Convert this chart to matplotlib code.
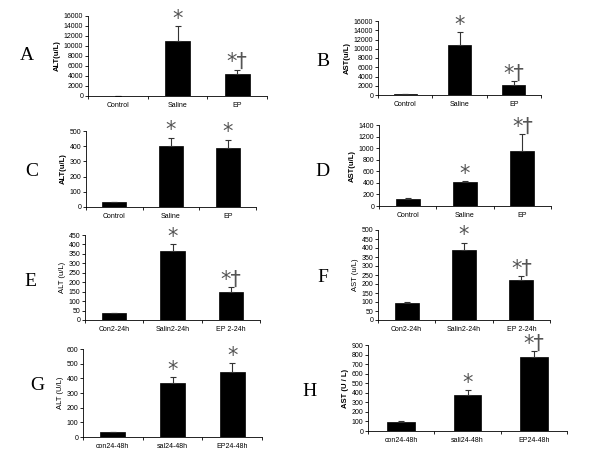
import matplotlib
matplotlib.use('Agg')
import matplotlib.pyplot as plt

plt.rcParams['font.family'] = ['Liberation Sans', 'DejaVu Sans']

# values (means, SD)
lbl_1 = ['Control', 'Saline', 'EP']
lbl_24 = ['Con2-24h', 'Salin2-24h', 'EP 2-24h']
lbl_g = ['con24-48h', 'sal24-48h', 'EP24-48h']
lbl_h = ['con24-48h', 'sali24-48h', 'EP24-48h']

alt_a = [0, 11000, 4500]
alt_a_err = [0, 3000, 800]
ast_b = [150, 10800, 2200]
ast_b_err = [50, 2800, 800]
alt_c = [30, 403, 390]
alt_c_err = [4, 53, 53]
ast_d = [120, 420, 950]
ast_d_err = [15, 12, 300]
alt_e = [35, 364, 146]
alt_e_err = [3, 37, 30]
ast_f = [94, 391, 222]
ast_f_err = [5, 39, 24]
alt_g = [32, 365, 440]
alt_g_err = [0, 41, 62]
ast_h = [94, 381, 776]
ast_h_err = [6, 46, 60]

sig_dag = ['', '*', '*†']
sig_star = ['', '*', '*']

panels = [
    # letter, labels, vals, err, marks, ylabel, ymax, ystep, bold,
    # axes box px (x0, x1, ytop, ybot), letter pos px (x, y)
    ('A', lbl_1, alt_a, alt_a_err, sig_dag, 'ALT(u/L)', 16000, 2000, True, (88, 267, 16, 96), (27, 55)),
    ('B', lbl_1, ast_b, ast_b_err, sig_dag, 'AST(u/L)', 16000, 2000, True, (378, 541, 21, 95), (323, 62)),
    ('C', lbl_1, alt_c, alt_c_err, sig_star, 'ALT(u/L)', 500, 100, True, (86, 256, 131, 207), (32, 171)),
    ('D', lbl_1, ast_d, ast_d_err, sig_dag, 'AST(u/L)', 1400, 200, True, (379, 551, 125, 206), (322, 171)),
    ('E', lbl_24, alt_e, alt_e_err, sig_dag, 'ALT (u/L)', 450, 50, False, (85, 260, 235, 320), (30, 282)),
    ('F', lbl_24, ast_f, ast_f_err, sig_dag, 'AST (u/L)', 500, 50, False, (378, 550, 230, 320), (323, 277)),
    ('G', lbl_g, alt_g, alt_g_err, sig_star, 'ALT (U/L)', 600, 100, False, (83, 262, 349, 437), (37, 385)),
    ('H', lbl_h, ast_h, ast_h_err, sig_dag, 'AST (U / L)', 900, 100, True, (368, 567, 345, 431), (310, 392)),
]

W, H = 600, 450
fig = plt.figure(figsize=(6, 4.5), dpi=100)

for letter, labels, vals, err, marks, ylab, ymax, ystep, bold, box, lpos in panels:
    x0, x1, yt, yb = box
    ax = fig.add_axes([x0 / W, 1 - yb / H, (x1 - x0) / W, (yb - yt) / H])
    xs = [1, 2, 3]
    ax.bar(xs, vals, width=0.42, color='black', edgecolor='black', linewidth=0.5)
    ax.errorbar(xs, vals, yerr=[[0, 0, 0], err], fmt='none', ecolor='#333333',
                elinewidth=0.8, capsize=2, capthick=0.8)
    for x, v, e, m in zip(xs, vals, err, marks):
        if m:
            ax.annotate(m, xy=(x, v + e), xytext=(0, -2), textcoords='offset points',
                        ha='center', va='bottom', fontsize=15, color='#555555',
                        family=['DejaVu Sans'], annotation_clip=False)
    ax.set_xlim(0.5, 3.5)
    ax.set_ylim(0, ymax)
    ax.set_yticks(range(0, ymax + 1, ystep))
    ax.set_xticks(xs)
    ax.set_xticklabels(labels)
    ax.set_xticks([0.5, 1.5, 2.5, 3.5], minor=True)
    ax.tick_params(axis='x', which='major', length=0, labelsize=5, pad=4)
    ax.tick_params(axis='x', which='minor', length=2.5, width=0.6, direction='out')
    ax.tick_params(axis='y', length=2, width=0.6, labelsize=5, pad=1.5)
    ax.spines['top'].set_visible(False)
    ax.spines['right'].set_visible(False)
    ax.spines['left'].set_linewidth(0.6)
    ax.spines['bottom'].set_linewidth(0.6)
    ax.set_ylabel(ylab, fontsize=5.5, fontweight='bold' if bold else 'normal', labelpad=2)
    fig.text(lpos[0] / W, 1 - lpos[1] / H, letter, fontsize=14,
             family='Liberation Serif', ha='center', va='center')

fig.savefig('out.png', dpi=100)
